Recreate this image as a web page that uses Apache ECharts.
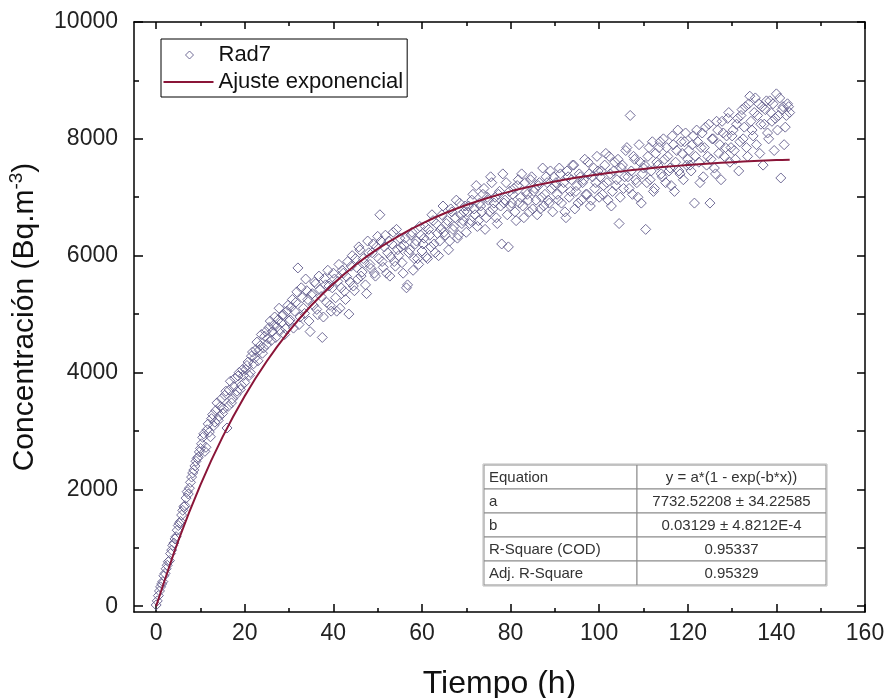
<!DOCTYPE html>
<html><head><meta charset="utf-8">
<script src="https://cdn.jsdelivr.net/npm/echarts@6/dist/echarts.min.js"></script>
<style>html,body{margin:0;padding:0;background:#fff}#c{width:888px;height:698px}</style>
</head><body><div id="c"></div>
<script>
// Rad7 readings: set A at t = i*timeStep, set B at t = timeOffsetB + i*timeStep (hours)
const timeStep = 0.5;
const timeOffsetB = 0.25;
const rad7ValuesA = [
  20,180,330,420,560,700,780,960,1080,1190,1380,1450,1640,1720,1960,2020,2210,2330,2480,2550,2700,
  2890,2650,3020,2980,3210,3090,3350,3180,3420,3300,3610,3050,3700,3480,3760,3620,3940,3710,4050,3830,
  4120,3950,4280,4150,4390,4200,4460,4330,4620,4480,4770,4550,4810,4600,4900,4720,4980,4650,5050,4880,
  5120,4760,5200,5790,4950,5280,5010,5400,4880,5330,5150,5520,4990,5420,4600,5610,5200,5480,5050,5700,
  5280,5560,5100,5750,5390,5640,5000,5820,5480,5950,5600,6100,5720,5880,5350,6050,5780,6200,5650,6330,
  6700,5900,6150,5700,6250,5980,6400,5820,6100,6300,5880,6180,5450,6050,6350,5750,6200,5950,6500,6080,
  6300,5980,6450,6150,6600,6050,6380,6250,6700,6400,6550,6100,6800,6450,6650,6300,6900,6550,6750,6400,
  6850,6600,7050,6700,6500,6900,6750,7150,6650,6950,7350,6800,7000,6550,7100,6200,6900,7250,6150,6850,
  7050,6750,7200,6900,7400,6650,7100,6950,7300,6800,7150,6700,7250,7000,6850,7350,6950,7450,6750,7200,
  7050,7500,6900,7250,6650,7350,7100,7550,6800,7200,7400,6950,7300,7050,7600,6850,7350,7150,7700,7000,
  7450,7200,7750,6950,7400,7100,7600,7300,6550,7500,7150,7800,7350,8400,7050,7650,7250,7900,6900,7500,
  6450,7700,7300,7950,7150,7600,7850,7400,8000,7250,7700,7500,8050,7100,7800,7450,7950,7300,8100,7650,
  7550,7900,6900,8150,7600,7850,7350,8200,7700,6900,8000,7500,8300,7750,7300,8100,7850,8350,7600,8050,
  7800,8250,7450,8400,8000,8550,7700,8730,8150,8450,7900,8600,8250,7550,8500,8100,8650,8300,7800,8770,
  8400,7330,8550,8200,8600,8450
];
const rad7ValuesB = [
  90,260,380,520,640,760,900,1040,1150,1300,1420,1560,1700,1850,1920,2120,2280,2400,2530,2640,
  2780,2950,2720,3120,2900,3280,3150,3480,3250,3550,3380,3680,3420,3850,3550,3900,3680,4000,3780,3950,
  4050,4180,4000,4350,4250,4520,4380,4650,4420,4700,4580,4880,4700,4950,4780,5100,4850,4990,4750,5150,
  4900,5250,5050,5380,4820,5450,5100,5600,5250,4700,5350,5550,5080,5650,5300,4950,5500,5750,5150,5450,
  5600,5050,5850,5450,5700,5250,5900,5550,6000,5400,5800,6150,5650,5950,5500,6250,5850,6050,5700,6150,
  5950,6250,5800,6350,6050,5650,6200,5900,6450,6000,6150,5700,6300,5500,6100,6400,5950,6250,5850,6350,
  6200,6500,5950,6350,6700,6200,6550,6000,6450,6850,6350,6600,6250,6750,6500,6950,6350,6700,6600,6850,
  6750,6550,6950,6800,7200,6600,6850,7050,6450,7000,6750,7250,6900,6650,7050,6850,7400,6950,6700,7100,
  6900,7150,6600,7300,7000,6850,7250,7050,6750,7350,7100,6950,7200,6800,7500,7050,7250,6900,7150,7350,
  7250,6950,7400,7150,6750,7450,7000,7300,7550,7100,6900,7350,7250,7650,7050,7400,6950,7500,7250,7450,
  7350,7050,7550,7250,7700,6850,7450,7200,7650,7000,7550,7350,7850,7150,7450,7700,7300,7000,7600,7400,
  7550,7250,7850,7450,7100,7750,7550,7950,7350,7650,7850,7450,7200,7900,7600,8150,7400,7750,7950,7550,
  7800,7450,8050,7700,7950,7250,8100,7850,7550,8250,7650,8000,7400,8150,7900,8300,7700,8050,8450,7850,
  8150,7650,8350,7950,8500,8200,7850,8600,8300,8050,8700,8400,7750,8550,8250,8650,8000,8450,8600,8350,
  8150,8700,8500,7900,8400,8550
];
// Fitted curve, read at these times
const fitTimes  = [0,5,10,15,20,25,30,35,40,45,50,55,60,65,70,75,80,85,90,95,100,105,110,115,120,125,130,135,140,143];
const fitValues = [0,1120,2078,2897,3597,4196,4708,5146,5520,5841,6115,6349,6549,6721,6867,6992,7100,7191,7270,7337,7394,7443,7485,7521,7552,7578,7600,7620,7636,7644];
// Axis ticks
const xMajorTicks = [0,20,40,60,80,100,120,140,160];
const xMinorTicks = [10,30,50,70,90,110,130,150];
const yMajorTicks = [0,2000,4000,6000,8000,10000];
const yMinorTicks = [1000,3000,5000,7000,9000];
// Fit results table
const tableRows = [
  ['Equation','y = a*(1 - exp(-b*x))'],
  ['a','7732.52208 \u00b1 34.22585'],
  ['b','0.03129 \u00b1 4.8212E-4'],
  ['R-Square (COD)','0.95337'],
  ['Adj. R-Square','0.95329']
];

const FONT = 'Liberation Sans, Arial, sans-serif';
const MARK = '#625c8c';
const FIT = '#8a1538';
const scatterData = rad7ValuesA.map((v, i) => [i * timeStep, v])
  .concat(rad7ValuesB.map((v, i) => [timeOffsetB + i * timeStep, v]));
const fitData = fitTimes.map((t, i) => [t, fitValues[i]]);

const X_MIN = -5, X_MAX = 160, Y_MIN = -100, Y_MAX = 10000;
const lineStyle = { color: '#000', width: 1.5 };
const plain = v => String(v);

function xAx(pos, ticks, len, withLine, withLabel, extra) {
  return Object.assign({
    type: 'value', position: pos, min: X_MIN, max: X_MAX, gridIndex: 0,
    axisLine: { show: withLine, onZero: false, lineStyle },
    axisTick: { show: true, inside: true, length: len, customValues: ticks, lineStyle: { color: '#000', width: 1.5 } },
    axisLabel: withLabel ? { show: true, customValues: ticks, formatter: plain, fontSize: 23, color: '#222', fontFamily: FONT, margin: 10 } : { show: false },
    splitLine: { show: false }
  }, extra || {});
}
function yAx(pos, ticks, len, withLine, withLabel, extra) {
  return Object.assign({
    type: 'value', position: pos, min: Y_MIN, max: Y_MAX, gridIndex: 0,
    axisLine: { show: withLine, onZero: false, lineStyle },
    axisTick: { show: true, inside: true, length: len, customValues: ticks, lineStyle: { color: '#000', width: 1.5 } },
    axisLabel: withLabel ? { show: true, customValues: ticks, formatter: plain, fontSize: 23, color: '#222', fontFamily: FONT, margin: 16 } : { show: false },
    splitLine: { show: false }
  }, extra || {});
}

// table graphic
const T_LEFT = 484, T_TOP = 465, ROW_H = 24, COL1 = 153, COL2 = 189;
const tableEls = [];
tableRows.forEach((r, i) => {
  const y = T_TOP + i * ROW_H;
  tableEls.push({ type: 'rect', shape: { x: T_LEFT, y: y, width: COL1, height: ROW_H }, style: { fill: '#fff', stroke: '#8a8a8a', lineWidth: 1 }, z: 100 });
  tableEls.push({ type: 'rect', shape: { x: T_LEFT + COL1, y: y, width: COL2, height: ROW_H }, style: { fill: '#fff', stroke: '#8a8a8a', lineWidth: 1 }, z: 100 });
  tableEls.push({ type: 'text', x: T_LEFT + 5, y: y + ROW_H / 2 + 1, style: { text: r[0], fill: '#333', font: '15px ' + FONT, verticalAlign: 'middle', align: 'left' }, z: 101 });
  tableEls.push({ type: 'text', x: T_LEFT + COL1 + COL2 / 2, y: y + ROW_H / 2 + 1, style: { text: r[1], fill: '#333', font: '15px ' + FONT, verticalAlign: 'middle', align: 'center' }, z: 101 });
});
tableEls.push({ type: 'rect', shape: { x: T_LEFT - 1, y: T_TOP - 1, width: COL1 + COL2 + 2, height: ROW_H * tableRows.length + 2 }, style: { fill: 'none', stroke: '#bbb', lineWidth: 1 }, z: 102 });

const chart = echarts.init(document.getElementById('c'), null, { renderer: 'canvas' });
chart.setOption({
  backgroundColor: '#fff',
  animation: false,
  textStyle: { fontFamily: FONT },
  grid: { left: 134, right: 23, top: 22, bottom: 86, containLabel: false, outerBoundsMode: 'none' },
  legend: {
    orient: 'vertical', left: 161, top: 39,
    padding: [5, 4, 4, 2], itemGap: 5,
    itemWidth: 50, itemHeight: 8,
    borderColor: '#000', borderWidth: 1,
    textStyle: { fontSize: 22, color: '#111', fontFamily: FONT },
    data: [
      // diamond icon; the leading moves fix the icon box to itemWidth x itemHeight so it is not stretched
      { name: 'Rad7', icon: 'path://M0,0 M50,8 M26,0 L30,4 L26,8 L22,4 Z',
        itemStyle: { color: 'rgba(255,255,255,0)', borderColor: MARK, borderWidth: 1 } },
      { name: 'Ajuste exponencial', icon: 'path://M0,0 M50,8 M0,3 L50,3 L50,5 L0,5 Z',
        itemStyle: { color: FIT, borderWidth: 0 } }
    ]
  },
  xAxis: [
    xAx('bottom', xMajorTicks, 8, true, true, {
      name: 'Tiempo (h)', nameLocation: 'middle', nameGap: 56,
      nameTextStyle: { fontSize: 32, color: '#111', fontFamily: FONT }
    }),
    xAx('bottom', xMinorTicks, 4, false, false),
    xAx('top', xMajorTicks, 7, true, false),
    xAx('top', xMinorTicks, 4, false, false)
  ],
  yAxis: [
    yAx('left', yMajorTicks, 9, true, true, {
      name: 'Concentración (Bq.m{sup|-3})', nameLocation: 'middle', nameGap: 75,
      nameTextStyle: { fontSize: 30, color: '#111', fontFamily: FONT, lineHeight: 36,
        rich: { sup: { fontSize: 19, fontFamily: FONT, color: '#111', verticalAlign: 'top', lineHeight: 19 } } }
    }),
    yAx('left', yMinorTicks, 5, false, false),
    yAx('right', yMajorTicks, 8, true, false),
    yAx('right', yMinorTicks, 8, false, false)
  ],
  series: [
    {
      name: 'Rad7', type: 'scatter', xAxisIndex: 0, yAxisIndex: 0,
      symbol: 'diamond', symbolSize: 10,
      itemStyle: { color: 'rgba(255,255,255,0)', borderColor: MARK, borderWidth: 1, opacity: 0.9 },
      data: scatterData, z: 2
    },
    {
      name: 'Ajuste exponencial', type: 'line', xAxisIndex: 0, yAxisIndex: 0,
      symbol: 'none', smooth: 0.3,
      lineStyle: { color: FIT, width: 2 },
      itemStyle: { color: FIT },
      data: fitData, z: 3
    }
  ],
  graphic: tableEls
});
</script></body></html>
